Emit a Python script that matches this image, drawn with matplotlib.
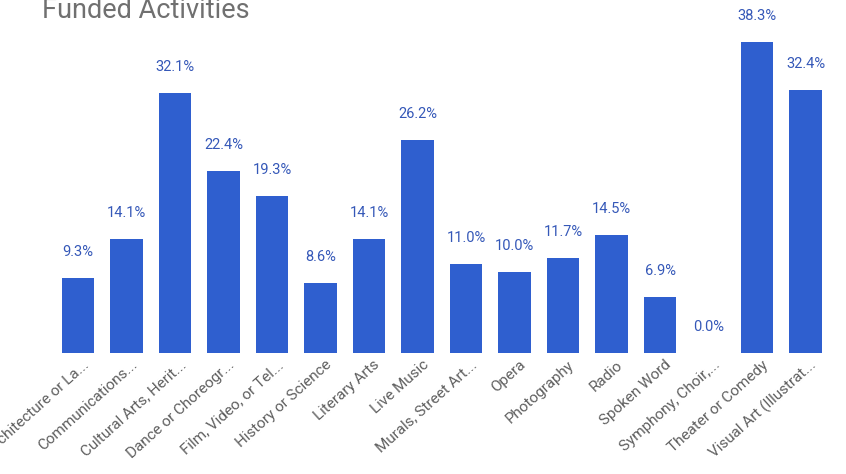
import matplotlib
matplotlib.use("Agg")
import matplotlib.pyplot as plt

categories = ["Architecture or La...", "Communications...", "Cultural Arts, Herit...",
              "Dance or Choreogr...", "Film, Video, or Tel...", "History or Science",
              "Literary Arts", "Live Music", "Murals, Street Art...", "Opera",
              "Photography", "Radio", "Spoken Word", "Symphony, Choir,...",
              "Theater or Comedy", "Visual Art (Illustrat..."]
values = [9.3, 14.1, 32.1, 22.4, 19.3, 8.6, 14.1, 26.2, 11.0, 10.0, 11.7, 14.5, 6.9, 0.0, 38.3, 32.4]

W, H = 846, 474
fig = plt.figure(figsize=(W/100, H/100), dpi=100)
left = 53.75 / W
width = 776 / W
bottom = 121 / H
height = 353 / H
ax = fig.add_axes([left, bottom, width, height])

bar_color = "#2f5fcf"
x = list(range(len(categories)))
ax.bar(x, values, width=0.66, color=bar_color)
ax.set_xlim(-0.5, len(categories) - 0.5)
ax.set_ylim(0, 43.5)
for s in ax.spines.values():
    s.set_visible(False)
ax.set_yticks([])
ax.set_xticks([])

for xi, cat in zip(x, categories):
    ax.annotate(cat, (xi, 0), xytext=(9, -10), textcoords="offset pixels",
                rotation=42, ha="right", va="center", rotation_mode="anchor",
                fontsize=11, color="#5f5f5f", family="Roboto", annotation_clip=False)

for xi, v in zip(x, values):
    ax.annotate(f"{v:.1f}%", (xi, v), xytext=(0, 26), textcoords="offset pixels",
                ha="center", va="center", fontsize=10.5, color="#3558b8", family="Roboto")

fig.text(42 / W, 1 - 18 / H, "Funded Activities", fontsize=19.5, color="#707070",
         family="Roboto", ha="left", va="baseline")

fig.savefig("out.png", dpi=100)
